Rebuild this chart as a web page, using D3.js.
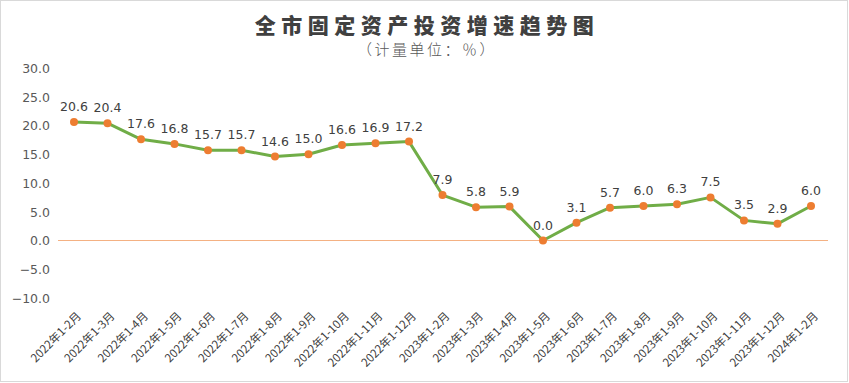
<!DOCTYPE html>
<html><head><meta charset="utf-8">
<script src="https://cdn.jsdelivr.net/npm/d3@7/dist/d3.min.js"></script>
<style>body{margin:0;background:#fff;}svg{display:block;}</style>
</head><body>
<svg id="c" width="849" height="383"></svg>
<script>
const categories = ["2022年1-2月","2022年1-3月","2022年1-4月","2022年1-5月","2022年1-6月","2022年1-7月","2022年1-8月","2022年1-9月","2022年1-10月","2022年1-11月","2022年1-12月","2023年1-2月","2023年1-3月","2023年1-4月","2023年1-5月","2023年1-6月","2023年1-7月","2023年1-8月","2023年1-9月","2023年1-10月","2023年1-11月","2023年1-12月","2024年1-2月"];
const values = [20.6,20.4,17.6,16.8,15.7,15.7,14.6,15.0,16.6,16.9,17.2,7.9,5.8,5.9,0.0,3.1,5.7,6.0,6.3,7.5,3.5,2.9,6.0];
const yTicks = [30,25,20,15,10,5,0,-5,-10];
const title = "全市固定资产投资增速趋势图";
const subtitle = "（计量单位：％）";

const svg = d3.select("#c");
const font = "'Noto Sans CJK SC','Noto Sans',sans-serif";
svg.append("rect").attr("x",0.5).attr("y",0.5).attr("width",847).attr("height",381)
  .attr("fill","#fff").attr("stroke","#d9d9d9");

const x = d3.scalePoint().domain(categories).range([74,811]);
const y = d3.scaleLinear().domain([-10,30]).range([298,68]);

svg.append("text").attr("x",427).attr("y",33).attr("text-anchor","middle")
  .attr("font-family",font).attr("font-weight","900").attr("font-size",21)
  .attr("letter-spacing",5.5).attr("fill","#404040").text(title);
svg.append("text").attr("x",427).attr("y",55).attr("text-anchor","middle")
  .attr("font-family","'Noto Sans CJK SC',serif").attr("font-weight","300").attr("font-size",15)
  .attr("letter-spacing",2.5).attr("fill","#595959").text(subtitle);

// y axis labels
const yAxis = d3.axisLeft(y).tickValues(yTicks).tickSize(0).tickPadding(0).tickFormat(d3.format(".1f"));
const ya = svg.append("g").attr("transform","translate(50,0)").call(yAxis);
ya.select(".domain").remove();
ya.selectAll("text").attr("font-family","'DejaVu Sans',sans-serif").attr("font-size",12.5).attr("fill","#595959").attr("dy","0.35em");

// zero line
svg.append("line").attr("x1",58).attr("x2",828).attr("y1",y(0)).attr("y2",y(0))
  .attr("stroke","#F4B183").attr("stroke-width",1.2);

// x axis labels
const xAxis = d3.axisBottom(x).tickSize(0).tickPadding(0);
const xa = svg.append("g").call(xAxis);
xa.select(".domain").remove();
xa.selectAll(".tick").attr("transform", d => `translate(${x(d)+5},314)`);
xa.selectAll("text").attr("transform","rotate(-45)").attr("text-anchor","end")
  .attr("dy","0.35em").attr("y",0).attr("x",0)
  .attr("font-family",font).attr("font-size",11.5).attr("fill","#404040");

// line
const line = d3.line().x((d,i)=>x(categories[i])).y(d=>y(d));
svg.append("path").datum(values).attr("d",line).attr("fill","none")
  .attr("stroke","#70AD47").attr("stroke-width",3).attr("stroke-linejoin","round");

svg.selectAll("circle.m").data(values).join("circle").attr("class","m")
  .attr("cx",(d,i)=>x(categories[i])).attr("cy",d=>y(d)).attr("r",4)
  .attr("fill","#ED7D31");

svg.selectAll("text.lab").data(values).join("text").attr("class","lab")
  .attr("x",(d,i)=>x(categories[i])).attr("y",d=>y(d)-11)
  .attr("text-anchor","middle").attr("font-family","'DejaVu Sans',sans-serif")
  .attr("font-size",12.5).attr("fill","#404040").text(d=>d.toFixed(1));
</script>
</body></html>
